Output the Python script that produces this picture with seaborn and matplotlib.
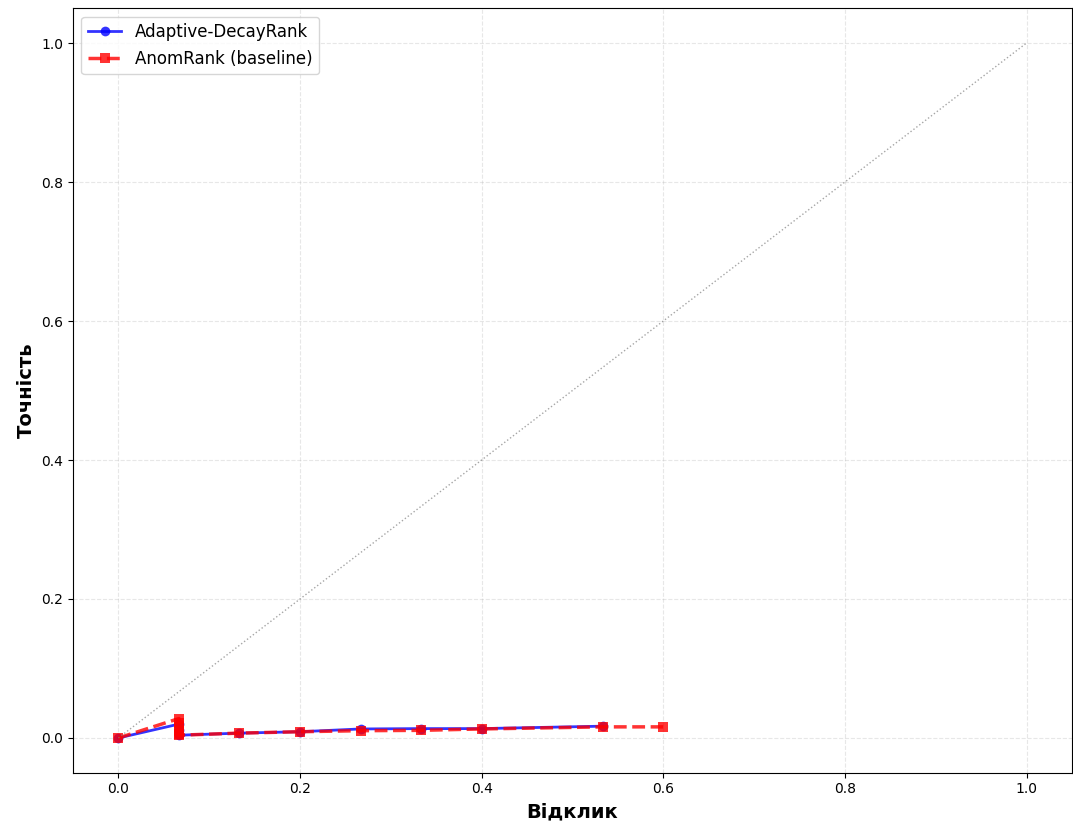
import numpy as np
import matplotlib
matplotlib.use("Agg")
import matplotlib.pyplot as plt
import seaborn as sns

# precision-recall points
adr_recall = [0.0, 0.0667, 0.0667, 0.0667, 0.0667, 0.1333, 0.2, 0.2667, 0.3333, 0.4, 0.5333]
adr_precision = [0.0, 0.020, 0.012, 0.006, 0.004, 0.007, 0.009, 0.013, 0.0135, 0.0135, 0.017]

anom_recall = [0.0, 0.0667, 0.0667, 0.0667, 0.0667, 0.0667, 0.0667, 0.1333, 0.2, 0.2667, 0.3333, 0.4, 0.5333, 0.6]
anom_precision = [0.0, 0.028, 0.022, 0.016, 0.010, 0.006, 0.004, 0.007, 0.009, 0.0105, 0.0110, 0.013, 0.016, 0.016]

fig, ax = plt.subplots(figsize=(10.73, 8.3), dpi=100)

sns.lineplot(x=adr_recall, y=adr_precision, sort=False, estimator=None, ax=ax,
             color="blue", marker="o", markersize=7, markeredgewidth=0,
             linewidth=2, alpha=0.8, label="Adaptive-DecayRank")
sns.lineplot(x=anom_recall, y=anom_precision, sort=False, estimator=None, ax=ax,
             color="red", marker="s", markersize=7, markeredgewidth=0,
             linewidth=2.5, linestyle="--", alpha=0.8, label="AnomRank (baseline)")

ax.plot([0, 1], [0, 1], color="gray", linestyle=":", linewidth=1, alpha=0.7)

ax.set_xlabel("Відклик", fontsize=14, fontweight="bold")
ax.set_ylabel("Точність", fontsize=14, fontweight="bold")
ax.set_xlim(-0.05, 1.05)
ax.set_ylim(-0.05, 1.05)
ax.grid(True, linestyle="--", alpha=0.3)
ax.legend(loc="upper left", fontsize=12)

plt.subplots_adjust(left=0.068, right=0.999, top=0.99, bottom=0.069)
plt.savefig("out.png", dpi=100)
